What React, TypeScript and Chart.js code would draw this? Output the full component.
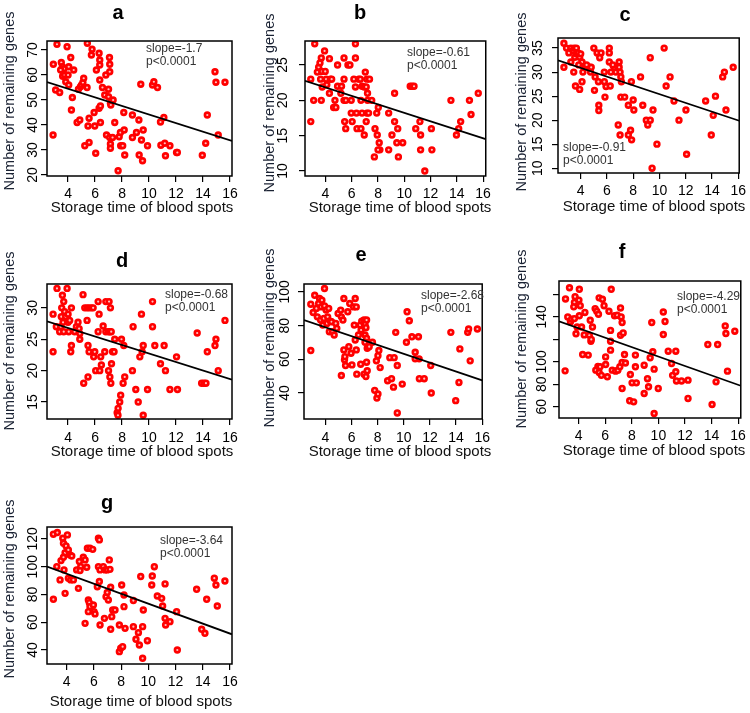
import React, { useEffect, useRef } from 'react';
import { Chart, registerables } from 'chart.js';
Chart.register(...registerables);

const FONT = 'Arial, "Liberation Sans", Helvetica, sans-serif';

// ---------- data ----------
const xTicks = [4, 6, 8, 10, 12, 14, 16];
const panelLetters = ['a', 'b', 'c', 'd', 'e', 'f', 'g'];
const slopes = ['-1.7', '-0.61', '-0.91', '-0.68', '-2.68', '-4.29', '-3.64'];
const pText = 'p<0.0001';
const xTitleText = 'Storage time of blood spots';
const yTitleText = 'Number of remaining genes';

const aYTicks = [20, 30, 40, 50, 60, 70];
const bYTicks = [10, 15, 20, 25];
const cYTicks = [10, 15, 20, 25, 30, 35];
const dYTicks = [15, 20, 25, 30];
const eYTicks = [40, 60, 80, 100];
const fYTicks = [60, 80, 100, 120, 140, 160];
const gYTicks = [40, 60, 80, 100, 120];
const fYTickLabels = ['60', '80', '100', '', '140', ''];

// fitted line values at the left and right edges of each plot
const aLine = [57.2, 33.6];
const bLine = [22.77, 14.51];
const cLine = [32.44, 19.88];
const dLine = [27.87, 18.56];
const eLine = [83.3, 47.5];
const fLine = [136.1, 78.7];
const gLine = [100.1, 51.3];

const aPoints = [[3.18,72.3],[2.91,64.3],[2.89,36],[3.08,54],[3.38,53],[3.5,65],[3.58,63.3],[3.63,61.7],[3.7,62.5],[3.93,71.3],[4.05,63.3],[4.2,67],[4.42,62],[3.83,57.3],[4.05,56],[4.32,51],[4.25,46],[4.67,41],[4.87,42],[4.77,54.3],[4.92,55.3],[5.0,56],[5.1,57],[5.16,58.7],[5.24,31.7],[5.41,55],[5.43,72.7],[5.56,42.7],[5.48,39.6],[5.56,33],[5.78,70.3],[5.73,68],[5.93,45],[5.98,39.6],[6.1,62],[6.05,28.7],[6.3,68.7],[6.35,66],[6.35,64],[6.35,58],[6.3,46.7],[6.4,47.6],[6.4,41],[6.55,55],[6.8,60],[6.72,52],[6.85,36],[7.07,67],[7.09,64.3],[7.09,61.3],[7.0,54.3],[7.0,51.3],[7.14,48.7],[7.17,48],[7.09,35],[7.14,32.4],[7.14,30.7],[7.3,35],[7.34,50],[7.46,41],[7.71,21.7],[7.79,35.3],[7.88,37],[7.9,31.7],[8.05,31.7],[8.13,45],[8.16,38],[8.2,28],[8.77,44],[8.77,35],[9.07,37],[9.25,42],[9.27,28],[9.39,56.3],[9.52,25.7],[9.44,34],[9.57,38],[9.89,31.7],[10.26,56],[10.36,57.3],[10.63,55],[10.85,41.2],[10.88,31.9],[11.1,43],[11.22,27.7],[11.17,32.7],[11.55,31.7],[12.04,29],[12.1,29],[13.95,27.9],[14.2,32.7],[14.32,44],[14.89,61.3],[14.96,57.1],[15.63,57.1],[15.13,36],[3.45,62],[3.6,59.5],[3.75,60],[4.0,60]];

const bPoints = [[3.18,28],[2.88,23],[2.88,17],[3.1,20],[3.38,24],[3.48,24.7],[3.58,25.3],[3.68,26],[3.73,24.1],[3.63,23],[3.75,21.9],[3.93,27],[3.98,24.1],[4.05,23],[4.1,22.2],[3.68,20],[4.3,25.9],[4.37,23],[4.47,23],[4.3,21],[4.72,20],[4.62,19],[4.79,19],[4.92,25],[4.92,22],[5.22,22],[5.17,21],[5.41,26],[5.41,23],[5.41,20],[5.46,17],[5.54,16],[5.71,25],[5.86,25],[5.96,18.2],[6.03,17],[6.28,28],[6.28,26],[6.16,23],[6.28,21.9],[6.36,18.2],[6.4,16],[6.53,23],[6.65,23],[6.78,22],[6.7,20],[6.78,18.2],[6.7,16],[6.95,21.9],[6.95,15.1],[7.03,24],[7.15,23],[7.1,21.9],[7.2,21],[7.2,20],[7.15,18.2],[7.28,18.2],[7.1,17],[7.35,23],[7.52,20],[7.77,16],[7.72,12],[7.9,18.2],[7.94,15.1],[8.02,19],[8.09,14],[8.14,13],[8.0,13],[8.81,18.2],[8.81,13],[9.06,15.1],[9.26,21],[9.26,17],[9.43,14],[9.5,16],[9.55,12],[9.88,14],[10.45,22],[10.6,22],[10.74,22],[10.87,16],[11.19,17],[11.24,15.1],[11.24,13],[11.56,10],[12.06,16],[12.1,13],[13.55,20],[13.97,15.1],[14.14,16],[14.29,17],[14.96,20],[15.08,18],[15.63,21],[5.96,20],[5.55,20]];

const cPoints = [[2.72,36],[2.72,31],[2.92,35],[3.1,34],[3.25,35],[3.42,34.5],[3.5,35],[3.55,33.1],[3.67,33.8],[3.25,32.1],[3.67,35],[3.8,34],[3.92,33.1],[4.0,33.8],[4.1,32.1],[3.47,30],[3.6,27.1],[3.92,26.4],[4.1,28],[4.35,31],[4.17,30],[4.68,31],[4.75,30],[4.8,31],[5.0,35],[5.25,34],[5.55,34],[5.45,33],[6.18,34],[6.18,35],[5.1,29],[5.05,26.2],[5.35,28],[5.38,23.1],[5.38,22],[5.85,24.8],[5.93,27],[5.8,28],[6.18,32.1],[6.3,30],[6.25,27.1],[6.55,31],[6.68,30],[6.93,31],[6.93,32.1],[7.0,30],[7.06,29],[7.1,28],[6.86,19],[7.0,16.9],[7.06,24.8],[7.35,24.8],[7.63,16.9],[7.8,17.9],[7.88,15.9],[7.63,23.1],[8.05,22.1],[8.0,24.2],[7.86,28],[8.56,29],[8.73,23.1],[9.0,20],[9.11,19],[9.3,20],[9.3,33],[9.44,10],[9.51,22.1],[9.81,15],[10.36,35],[10.51,27.1],[10.81,29],[11.11,24],[11.49,20],[12.02,22.1],[12.07,12.9],[13.52,24],[14.27,25],[13.95,16.9],[14.1,21],[14.82,29],[14.95,30],[15.07,22.1],[15.62,31],[5.8,30],[6.45,31.5],[4.45,31.5],[3.85,31.5]];

const dPoints = [[3.18,33.1],[2.89,29],[2.89,23],[3.13,27],[3.38,26.2],[3.46,27],[3.5,28.6],[3.53,30],[3.58,32],[3.68,31],[3.63,27.7],[3.68,26.2],[3.75,29.4],[3.83,28.6],[3.93,33.1],[4.0,29],[4.0,27.7],[4.05,26.2],[4.12,28],[4.25,30],[4.25,24],[4.2,23],[4.49,26.2],[4.62,27],[4.74,27.7],[4.82,26.7],[4.87,25.9],[4.87,25],[5.11,32.1],[5.16,18],[5.24,30],[5.41,30],[5.56,30],[5.73,30],[5.86,30],[5.41,28],[5.48,24],[5.56,23],[5.48,19],[5.9,22.2],[5.98,23],[6.05,20],[6.23,31],[6.3,29],[6.23,26.2],[6.35,20],[6.42,22.2],[6.47,20.9],[6.6,27.1],[6.8,31],[6.72,23],[6.8,26.2],[7.0,26.2],[7.1,26.2],[7.2,26.2],[7.0,20],[7.1,19],[7.17,18],[7.04,31],[7.14,30],[7.3,23],[7.41,23],[7.22,21.1],[7.46,25],[7.64,13.3],[7.71,14],[7.83,15],[7.9,16.1],[7.7,12.9],[7.96,25],[8.13,24],[8.08,18],[8.2,19],[8.77,20],[8.82,27],[9.02,17],[9.2,15],[9.32,22.2],[9.44,29],[9.49,23],[9.57,12.9],[9.57,24],[9.89,17],[10.26,31],[10.26,27],[10.43,24],[10.85,21.1],[11.12,24],[11.22,20],[11.55,17],[12.04,22.2],[12.11,17],[13.57,26],[13.9,18],[14.07,18],[14.22,18],[14.32,23],[14.89,24],[14.96,25],[15.13,20],[15.63,28]];

const ePoints = [[2.88,92.7],[2.88,65.2],[3.18,98],[3.06,87.8],[3.31,90.2],[3.38,85.2],[3.48,93.1],[3.55,96.1],[3.63,83.3],[3.68,91.1],[3.73,95.1],[3.8,80.3],[3.88,84.3],[3.93,102],[3.93,91.7],[4.05,89.2],[4.12,81.3],[4.17,85.2],[4.25,90.2],[4.3,76.4],[4.37,82.7],[4.47,82.3],[4.55,76.4],[4.67,74.4],[4.79,81.3],[4.87,78.4],[4.97,87.2],[5.17,89.2],[5.22,85.2],[5.34,83.3],[5.22,50.4],[5.41,96.1],[5.41,65.6],[5.46,59.7],[5.54,56.3],[5.49,61.6],[5.71,88.2],[5.86,93.1],[5.79,67.5],[5.96,63.6],[6.03,56.7],[6.16,91.1],[6.28,96.1],[6.36,91.1],[6.21,80.3],[6.28,71.5],[6.36,65.6],[6.4,51.2],[6.53,74.4],[6.65,80.3],[6.78,82.7],[6.73,77.4],[6.7,57.1],[6.95,83.3],[7.03,80.7],[7.1,78.8],[7.15,83.3],[7.03,74.4],[7.15,72.5],[7.03,70.1],[7.2,66.6],[6.95,51.2],[7.1,49.8],[7.2,53.2],[7.15,58.3],[7.35,67.5],[7.6,70.1],[7.77,41.6],[7.94,37],[8.02,39.4],[7.9,59.1],[8.02,62.2],[8.09,65.2],[8.19,55.1],[8.76,47.3],[8.93,61],[9.06,48.5],[9.21,43.5],[9.26,61],[9.38,76],[9.5,28.2],[9.5,56.3],[9.88,45.3],[10.25,88.2],[10.2,70.1],[10.42,82.9],[10.62,73.4],[10.87,64.2],[10.87,60.3],[11.12,73.4],[11.17,60.3],[11.19,48.5],[11.56,48.5],[12.06,56.3],[12.1,40],[13.6,76],[13.97,35.5],[14.22,46.3],[14.29,66.2],[14.89,76],[14.96,78],[15.08,59.1],[15.63,78]];

const fPoints = [[3.31,166],[3.01,156],[2.98,92],[3.18,140],[3.38,135.6],[3.48,138],[3.68,153],[3.63,149],[3.73,158],[3.88,131],[3.68,138.5],[3.8,125],[4.05,164.6],[4.02,155],[4.12,150],[4.05,141],[4.22,131],[4.47,144],[4.42,124],[4.3,106.5],[4.72,106],[4.8,123.7],[4.92,118.4],[4.87,137],[5.04,131],[4.95,120],[5.24,147.4],[5.36,145],[5.29,92.6],[5.45,96],[5.54,90.5],[5.61,95.6],[5.71,88],[5.49,142.4],[5.54,157],[5.79,155.7],[5.91,150],[6.03,97.6],[6.16,86.7],[6.03,104.4],[6.28,145],[6.45,164.6],[6.4,128],[6.4,118.4],[6.4,110.4],[6.53,92.6],[6.7,141],[6.9,141.5],[6.78,91.7],[6.95,92.6],[7.1,95.6],[7.15,148],[7.2,140],[7.27,135],[7.15,123.7],[7.35,125.8],[7.27,99.4],[7.27,76.3],[7.52,99],[7.45,106.5],[7.89,88.7],[7.84,65.3],[8.14,64.4],[8.02,81.3],[8.34,81.3],[8.27,106],[8.27,95.6],[8.93,97],[8.93,71.8],[9.18,85],[9.26,77.8],[9.38,103.6],[9.5,135],[9.58,109],[9.68,93.5],[9.68,54],[9.99,76.3],[10.37,144.4],[10.5,136],[10.37,124.3],[10.74,109.5],[10.99,98.5],[11.07,88],[11.31,91.2],[11.31,109.5],[11.36,83],[11.74,83],[12.23,83.7],[12.23,67.4],[13.72,115.4],[14.04,62],[14.34,82.2],[14.46,115.4],[15.03,132],[15.08,125.2],[15.2,91.7],[15.75,127.3]];

const gPoints = [[3.02,123.4],[3.31,124.6],[3.02,76.5],[3.27,100],[3.51,90.5],[3.58,104.4],[3.71,120.5],[3.76,116.9],[3.88,110],[3.76,106.8],[3.95,115],[3.8,97.7],[4.05,122.9],[4.12,112.1],[4.24,108.5],[4.37,107.7],[3.88,80.8],[4.12,91.7],[4.29,90.5],[4.49,90.5],[4.73,97.7],[4.86,84.4],[4.93,103.7],[5.03,100],[4.98,97.2],[5.22,106.8],[5.35,104.9],[5.35,59.2],[5.47,99.6],[5.52,113.3],[5.71,113.3],[5.91,112.5],[5.59,76],[5.66,74.1],[5.71,71.2],[5.59,67.6],[5.96,72.4],[6.01,67.6],[6.08,66],[6.33,120.5],[6.4,119.3],[6.33,100],[6.45,97.7],[6.25,85.6],[6.4,89.3],[6.45,58],[6.69,100],[6.82,97.7],[6.98,97.7],[7.18,98.1],[7.13,104.9],[6.89,78.4],[6.98,81.4],[7.06,76],[6.77,62.8],[7.23,85.2],[7.31,64],[7.23,54.9],[7.38,68.8],[7.55,68.8],[7.87,58],[7.87,38.8],[7.97,41.2],[8.11,42.4],[8.04,86.8],[8.21,79.6],[8.21,71.2],[8.29,55.6],[8.9,56.8],[8.9,75.6],[9.09,47.7],[9.27,52.5],[9.34,43.6],[9.44,92.9],[9.58,56.8],[9.58,34],[9.63,68.8],[9.93,46.7],[10.29,93.3],[10.25,86.8],[10.44,100],[10.66,78.9],[10.98,77.2],[11.05,71.7],[11.23,87.6],[11.23,62.8],[11.27,58],[11.59,60.4],[12.08,67.6],[12.13,40],[13.55,83.7],[13.92,54.9],[14.16,52],[14.29,76.5],[14.85,91.7],[14.97,86.8],[15.07,71.7],[15.63,89.7]];

// ---------- assembled per panel ----------
const panels = [
  { points: aPoints, line: aLine, yTicks: aYTicks, yLabels: aYTicks.map(String) },
  { points: bPoints, line: bLine, yTicks: bYTicks, yLabels: bYTicks.map(String) },
  { points: cPoints, line: cLine, yTicks: cYTicks, yLabels: cYTicks.map(String) },
  { points: dPoints, line: dLine, yTicks: dYTicks, yLabels: dYTicks.map(String) },
  { points: ePoints, line: eLine, yTicks: eYTicks, yLabels: eYTicks.map(String) },
  { points: fPoints, line: fLine, yTicks: fYTicks, yLabels: fYTickLabels },
  { points: gPoints, line: gLine, yTicks: gYTicks, yLabels: gYTicks.map(String) },
];

// ---------- layout (page pixel coordinates) ----------
const layouts = [
  { left: 0, top: 0, w: 245, h: 235, box: [47, 41, 232, 176], x: [2.44, 16.15], y: [19.6, 73.6], title: [118, 13], stat: [146, 49], xTitle: [142, 208], yTitle: [10, 101], yLab: 33, xPad: 4 },
  { left: 245, top: 0, w: 250, h: 235, box: [305, 41, 490, 176], x: [2.44, 16.2], y: [9.3, 28.4], title: [360, 13], stat: [407, 53], xTitle: [400, 208], yTitle: [270, 103], yLab: 283, xPad: 4 },
  { left: 495, top: 0, w: 255, h: 235, box: [558, 38, 742, 173], x: [2.27, 16.08], y: [9.0, 37.1], title: [625, 15], stat: [563, 148], xTitle: [654, 207], yTitle: [522, 102], yLab: 538, xPad: 4 },
  { left: 0, top: 235, w: 245, h: 235, box: [47, 284, 232, 419], x: [2.44, 16.15], y: [12.3, 33.8], title: [122, 261], stat: [165, 295], xTitle: [142, 452], yTitle: [10, 341], yLab: 33, xPad: 5 },
  { left: 245, top: 235, w: 250, h: 235, box: [304, 284, 487, 419], x: [2.36, 16.0], y: [24.6, 104.7], title: [361, 255], stat: [421, 296], xTitle: [400, 452], yTitle: [270, 338], yLab: 285, xPad: 5 },
  { left: 495, top: 235, w: 255, h: 235, box: [559, 281, 744, 418], x: [2.52, 16.2], y: [50, 172], title: [622, 252], stat: [677, 297], xTitle: [654, 451], yTitle: [522, 339], yLab: 542, xPad: 4 },
  { left: 0, top: 470, w: 245, h: 243, box: [47, 527, 232, 664], x: [2.55, 16.15], y: [29.9, 128.6], title: [107, 503], stat: [160, 541], xTitle: [141, 702], yTitle: [10, 589], yLab: 33, xPad: 4 },
];

function Panel({ idx }: { idx: number }) {
  const ref = useRef<HTMLCanvasElement | null>(null);
  const L = layouts[idx];
  useEffect(() => {
    const P = panels[idx];
    const cx0 = L.box[0] - L.left;
    const cy0 = L.box[1] - L.top;
    const cx1 = L.box[2] - L.left;
    const cy1 = L.box[3] - L.top;
    const decor = {
      id: 'decor' + idx,
      afterDraw(chart: any) {
        const ctx = chart.ctx;
        const ca = chart.chartArea;
        ctx.save();
        ctx.strokeStyle = '#000';
        ctx.lineWidth = 1.5;
        ctx.strokeRect(ca.left, ca.top, ca.right - ca.left, ca.bottom - ca.top);
        // y tick labels (rotated like R)
        const ys = chart.scales.y;
        ctx.fillStyle = '#000';
        ctx.font = `14px ${FONT}`;
        ctx.textAlign = 'center';
        ctx.textBaseline = 'middle';
        ys.ticks.forEach((t: any, i: number) => {
          const lab = P.yLabels[i];
          if (!lab) return;
          const py = ys.getPixelForValue(t.value);
          ctx.save();
          ctx.translate(L.yLab - L.left, py);
          ctx.rotate(-Math.PI / 2);
          ctx.fillText(lab, 0, 0);
          ctx.restore();
        });
        // panel letter
        ctx.font = `bold 20px ${FONT}`;
        ctx.fillText(panelLetters[idx], L.title[0] - L.left, L.title[1] - L.top);
        // statistics
        ctx.font = `12px ${FONT}`;
        ctx.fillStyle = '#333';
        ctx.textAlign = 'left';
        ctx.fillText('slope=' + slopes[idx], L.stat[0] - L.left, L.stat[1] - L.top);
        ctx.fillText(pText, L.stat[0] - L.left, L.stat[1] - L.top + 13);
        // axis titles
        ctx.fillStyle = '#111';
        ctx.textAlign = 'center';
        ctx.font = `15px ${FONT}`;
        ctx.fillText(xTitleText, L.xTitle[0] - L.left, L.xTitle[1] - L.top);
        ctx.save();
        ctx.translate(L.yTitle[0] - L.left, L.yTitle[1] - L.top);
        ctx.rotate(-Math.PI / 2);
        ctx.fillStyle = '#1a2233';
        ctx.font = `14.5px ${FONT}`;
        ctx.fillText(yTitleText, 0, 0);
        ctx.restore();
        ctx.restore();
      },
    };
    const gridOpts = { display: true, drawOnChartArea: false, drawTicks: true, tickLength: 6, color: '#000', lineWidth: 1.2 };
    const chart = new Chart(ref.current as HTMLCanvasElement, {
      type: 'scatter',
      data: {
        datasets: [
          {
            data: [{ x: L.x[0], y: P.line[0] }, { x: L.x[1], y: P.line[1] }],
            showLine: true,
            borderColor: '#000',
            borderWidth: 1.8,
            pointRadius: 0,
            fill: false,
          },
          {
            data: P.points.map(([x, y]) => ({ x, y })),
            pointRadius: 2.4,
            pointBorderWidth: 2.6,
            pointBorderColor: '#ff0000',
            pointBackgroundColor: '#ffc0c0',
            pointStyle: 'circle',
          },
        ],
      } as any,
      options: {
        responsive: false,
        animation: false,
        devicePixelRatio: 1,
        events: [],
        layout: { padding: { left: 0, top: cy0, right: L.w - cx1, bottom: 0 } },
        plugins: { legend: { display: false }, tooltip: { enabled: false }, title: { display: false } },
        scales: {
          x: {
            type: 'linear',
            position: 'bottom',
            min: L.x[0],
            max: L.x[1],
            afterBuildTicks: (s: any) => { s.ticks = xTicks.map((v) => ({ value: v })); },
            afterFit: (s: any) => { s.height = L.h - cy1; },
            grid: gridOpts,
            border: { display: false },
            ticks: { color: '#000', font: { family: FONT, size: 14 }, padding: L.xPad, autoSkip: false, maxRotation: 0, minRotation: 0, callback: (v: any) => String(v) },
          },
          y: {
            type: 'linear',
            position: 'left',
            min: L.y[0],
            max: L.y[1],
            afterBuildTicks: (s: any) => { s.ticks = P.yTicks.map((v) => ({ value: v })); },
            afterFit: (s: any) => { s.width = cx0; },
            grid: gridOpts,
            border: { display: false },
            ticks: { display: false },
          },
        },
      } as any,
      plugins: [decor],
    });
    return () => chart.destroy();
  }, [idx]);
  return (
    <canvas
      ref={ref}
      width={L.w}
      height={L.h}
      style={{ position: 'absolute', left: L.left, top: L.top, width: L.w, height: L.h }}
    />
  );
}

export default function App() {
  return (
    <div style={{ position: 'absolute', left: 0, top: 0, width: 750, height: 713, background: '#fff' }}>
      {layouts.map((_, i) => (
        <Panel key={i} idx={i} />
      ))}
    </div>
  );
}
